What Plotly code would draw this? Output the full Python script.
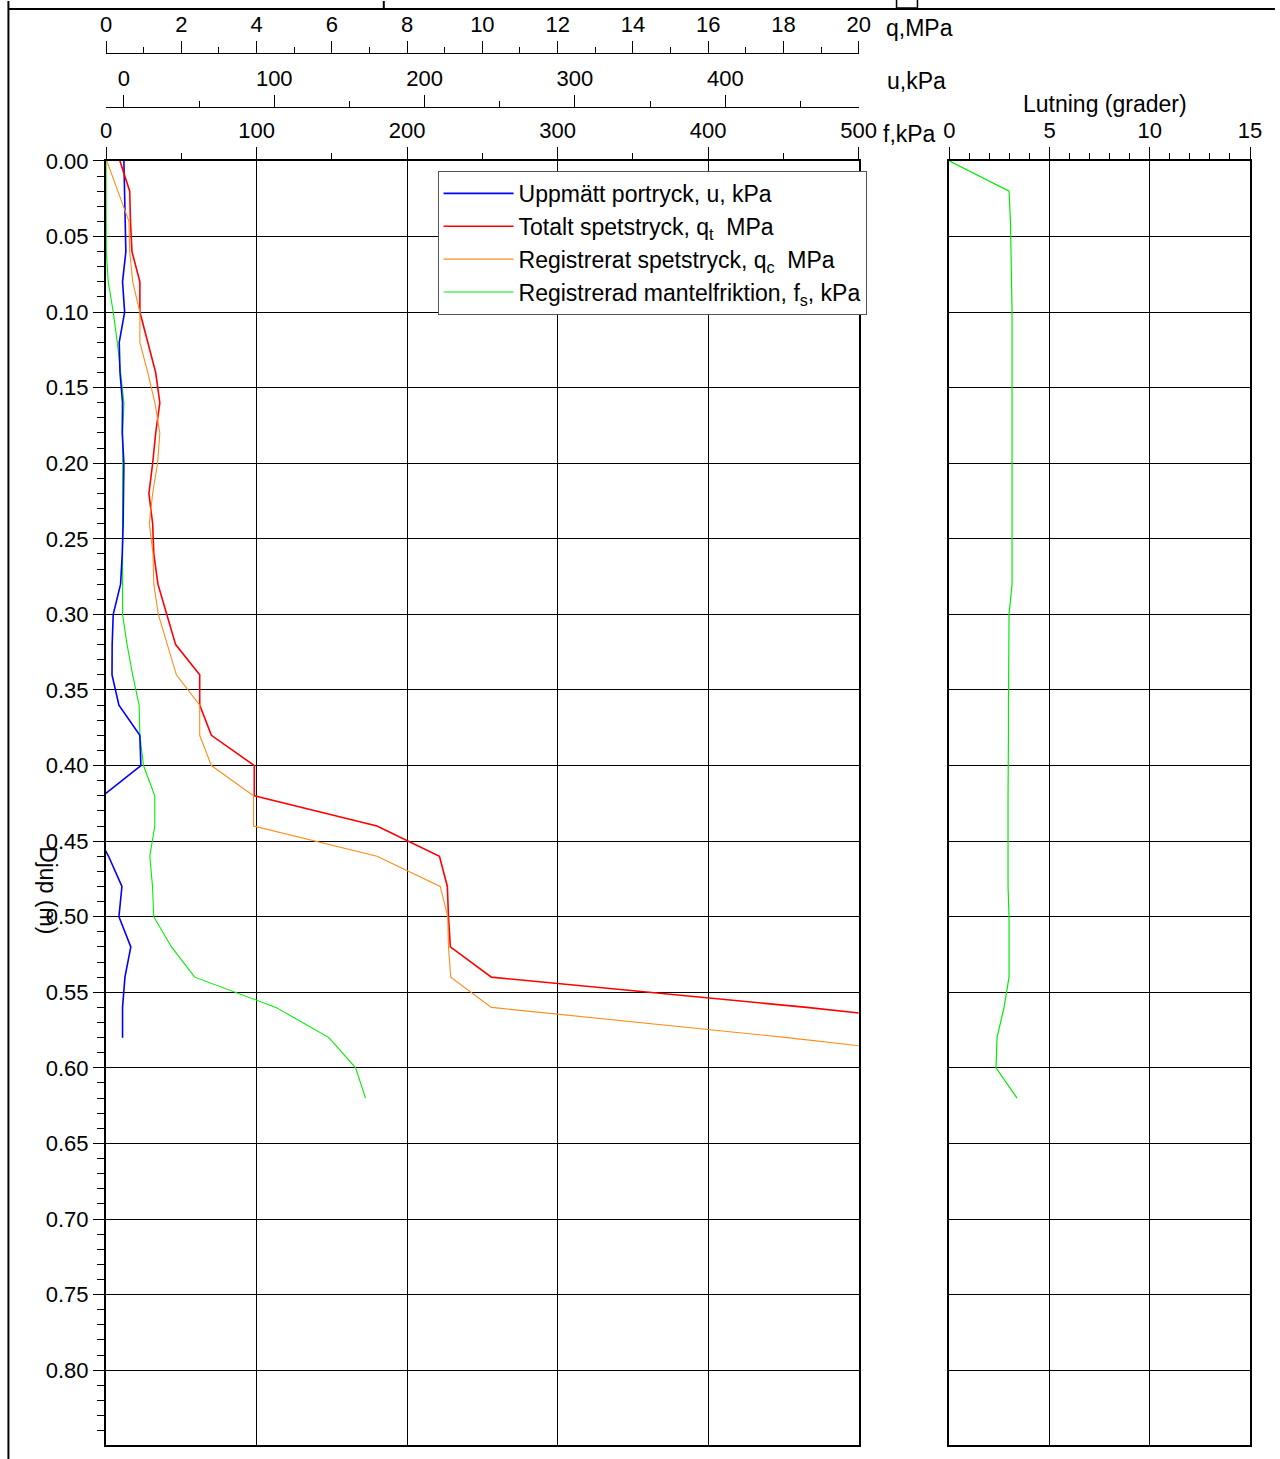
import plotly.graph_objects as go

# ---------------- data ----------------
depth_qt = [0.00, 0.02, 0.04, 0.06, 0.08, 0.10, 0.12, 0.14, 0.16, 0.18,
            0.20, 0.22, 0.24, 0.26, 0.28, 0.30, 0.32, 0.34, 0.36, 0.38,
            0.40, 0.42, 0.44, 0.46, 0.48, 0.50, 0.52, 0.54, 0.56, 0.58]
qt_mpa = [0.37, 0.63, 0.65, 0.69, 0.90, 0.90, 1.11, 1.32, 1.43, 1.32,
          1.24, 1.14, 1.24, 1.27, 1.38, 1.61, 1.85, 2.49, 2.49, 2.80,
          3.94, 3.94, 7.20, 8.86, 9.07, 9.10, 9.15, 10.24, 18.62, 26.1]

depth_qc = [0.00, 0.02, 0.04, 0.06, 0.08, 0.10, 0.12, 0.14, 0.16, 0.18,
            0.20, 0.22, 0.24, 0.26, 0.28, 0.30, 0.32, 0.34, 0.36, 0.38,
            0.40, 0.42, 0.44, 0.46, 0.48, 0.50, 0.52, 0.54, 0.56, 0.58, 0.60]
qc_mpa = [0.02, 0.32, 0.61, 0.63, 0.71, 0.90, 0.90, 1.11, 1.30, 1.43,
          1.37, 1.24, 1.15, 1.25, 1.27, 1.39, 1.63, 1.87, 2.49, 2.49,
          2.80, 3.92, 3.92, 7.20, 8.88, 9.08, 9.10, 9.16, 10.24, 18.1, 25.2]

depth_u = [0.00, 0.02, 0.04, 0.06, 0.08, 0.10, 0.12, 0.14, 0.16, 0.18,
           0.20, 0.22, 0.24, 0.26, 0.28, 0.30, 0.32, 0.34, 0.36, 0.38,
           0.40, 0.42, 0.44, 0.46, 0.48, 0.50, 0.52, 0.54, 0.56, 0.58]
u_kpa = [0.0, 0.5, 0.7, 1.3, -0.9, 0.5, -3.1, -2.6, -0.9, -1.1,
         0.0, 0.0, -0.5, -1.1, -2.2, -7.1, -7.8, -7.9, -3.3, 10.6,
         11.3, -14.0, -21.5, -10.2, -1.3, -3.3, 4.6, 0.7, -0.9, -0.9]

depth_fs = [0.00, 0.02, 0.04, 0.06, 0.08, 0.10, 0.12, 0.14, 0.16, 0.18,
            0.20, 0.22, 0.24, 0.26, 0.28, 0.30, 0.32, 0.34, 0.36, 0.38,
            0.40, 0.42, 0.44, 0.46, 0.48, 0.50, 0.52, 0.54, 0.56, 0.58,
            0.60, 0.62]
fs_kpa = [0.0, 0.0, 0.0, 0.2, 1.5, 4.8, 7.5, 9.7, 11.9, 11.1,
          11.0, 11.0, 11.0, 10.8, 10.6, 11.0, 14.0, 17.7, 22.0, 22.5,
          24.9, 32.4, 32.4, 29.1, 30.9, 31.7, 43.5, 58.9, 112.9, 148.1,
          165.8, 172.4]

depth_lut = depth_fs
lutning_deg = [0.00, 2.98, 3.05, 3.08, 3.10, 3.13, 3.13, 3.13, 3.13, 3.12,
               3.12, 3.12, 3.13, 3.13, 3.13, 2.98, 2.96, 2.95, 2.95, 2.95,
               2.93, 2.93, 2.93, 2.93, 2.93, 2.98, 2.98, 2.98, 2.73, 2.38,
               2.33, 3.38]

depth_ticks = [0.00, 0.05, 0.10, 0.15, 0.20, 0.25, 0.30, 0.35, 0.40,
               0.45, 0.50, 0.55, 0.60, 0.65, 0.70, 0.75, 0.80]

names = ["Uppmätt portryck, u, kPa",
         "Totalt spetstryck, q<sub>t</sub>  MPa",
         "Registrerat spetstryck, q<sub>c</sub>  MPa",
         "Registrerad mantelfriktion, f<sub>s</sub>, kPa"]

# ---------------- layout helpers ----------------
W, H = 1280, 1459
ML, MR, MT, MB = 106, 25, 40, 14
PW = W - ML - MR
PH = H - MT - MB


def px(x):
    return (x - ML) / PW


def py(y):
    return (H - MB - y) / PH


FONT = "Liberation Sans, Arial, sans-serif"
FS = 22
FS_LAB = 23

fig = go.Figure()
fig.add_trace(go.Scatter(x=u_kpa, y=depth_u, mode="lines", name=names[0],
                         xaxis="x2", yaxis="y",
                         line=dict(color="#0000ff", width=1.6)))
fig.add_trace(go.Scatter(x=qt_mpa, y=depth_qt, mode="lines", name=names[1],
                         xaxis="x3", yaxis="y",
                         line=dict(color="#ff0000", width=1.6)))
fig.add_trace(go.Scatter(x=qc_mpa, y=depth_qc, mode="lines", name=names[2],
                         xaxis="x3", yaxis="y",
                         line=dict(color="#ff8c1a", width=1.1)))
fig.add_trace(go.Scatter(x=fs_kpa, y=depth_fs, mode="lines", name=names[3],
                         xaxis="x", yaxis="y",
                         line=dict(color="#00ee00", width=1.1)))
fig.add_trace(go.Scatter(x=lutning_deg, y=depth_lut, mode="lines",
                         showlegend=False, xaxis="x4", yaxis="y2",
                         line=dict(color="#00ee00", width=1.2)))

tick_common = dict(ticks="outside", tickcolor="black", tickwidth=1,
                   zeroline=False, tickfont=dict(family=FONT, size=FS, color="black"))

YR = [0.8495, 0.0]

fig.update_layout(
    width=W, height=H,
    margin=dict(l=ML, r=MR, t=MT, b=MB),
    paper_bgcolor="white", plot_bgcolor="white",
    font=dict(family=FONT, size=FS, color="black"),
    xaxis=dict(domain=[0, px(862)], range=[0, 500], side="top", anchor="y",
               tickmode="linear", tick0=0, dtick=100, ticklen=12,
               minor=dict(dtick=50, ticklen=6, tickcolor="black", showgrid=False),
               showgrid=True, gridcolor="black", gridwidth=1,
               showline=True, linecolor="black", linewidth=2, mirror=True,
               **tick_common),
    xaxis2=dict(overlaying="x", anchor="free", position=py(106), side="top",
                domain=[0, px(862)], range=[-11.9, 488.7],
                tickmode="linear", tick0=0, dtick=100, ticklen=12,
                minor=dict(tick0=0, dtick=50, ticklen=6, tickcolor="black", showgrid=False),
                showgrid=False, showline=True, linecolor="black", linewidth=1,
                **tick_common),
    xaxis3=dict(overlaying="x", anchor="free", position=py(52), side="top",
                domain=[0, px(862)], range=[0, 20],
                tickmode="linear", tick0=0, dtick=2, ticklen=12,
                minor=dict(dtick=1, ticklen=6, tickcolor="black", showgrid=False),
                showgrid=False, showline=True, linecolor="black", linewidth=1,
                **tick_common),
    xaxis4=dict(domain=[px(953), px(1255)], range=[0, 15], side="top", anchor="y2",
                tickmode="linear", tick0=0, dtick=5, ticklen=12,
                minor=dict(dtick=1, ticklen=6, tickcolor="black", showgrid=False),
                showgrid=True, gridcolor="black", gridwidth=1,
                showline=True, linecolor="black", linewidth=2, mirror=True,
                **tick_common),
    yaxis=dict(domain=[0, py(160)], range=YR, anchor="x",
               tickmode="array", tickvals=depth_ticks,
               ticktext=[f"{v:.2f}" for v in depth_ticks], ticklen=11,
               minor=dict(dtick=0.01, tick0=0, ticklen=7, tickcolor="black", showgrid=False),
               showgrid=True, gridcolor="black", gridwidth=1,
               showline=True, linecolor="black", linewidth=2, mirror=True,
               **tick_common),
    yaxis2=dict(domain=[0, py(160)], range=YR, anchor="x4",
                tickmode="array", tickvals=depth_ticks, showticklabels=False,
                ticks="", showgrid=True, gridcolor="black", gridwidth=1,
                showline=True, linecolor="black", linewidth=2, mirror=True,
                zeroline=False),
    legend=dict(x=px(439), y=py(170), xanchor="left", yanchor="top",
                bgcolor="white", bordercolor="#555555", borderwidth=1,
                font=dict(family=FONT, size=FS_LAB, color="black"),
                tracegroupgap=0, itemwidth=70),
    showlegend=True,
)

ann = [
    dict(text="q,MPa", x=px(887), y=py(27), xanchor="left", yanchor="middle"),
    dict(text="u,kPa", x=px(888), y=py(80), xanchor="left", yanchor="middle"),
    dict(text="f,kPa", x=px(884), y=py(133), xanchor="left", yanchor="middle"),
    dict(text="Lutning (grader)", x=px(1109), y=py(103), xanchor="center", yanchor="middle"),
    dict(text="Djup (m)", x=px(47), y=py(890), xanchor="center", yanchor="middle",
         textangle=90),
]
for a in ann:
    fig.add_annotation(xref="paper", yref="paper", showarrow=False,
                       font=dict(family=FONT, size=FS_LAB, color="black"), **a)

# page frame fragments
frame = [
    dict(x0=px(8), x1=px(8), y0=py(0), y1=py(1459)),
    dict(x0=px(8), x1=px(1280), y0=py(8), y1=py(8)),
    dict(x0=px(385), x1=px(385), y0=py(0), y1=py(8)),
]
for f in frame:
    fig.add_shape(type="line", xref="paper", yref="paper",
                  line=dict(color="black", width=2), **f)
fig.add_shape(type="rect", xref="paper", yref="paper",
              x0=px(900), x1=px(921), y0=py(7), y1=py(-2),
              line=dict(color="black", width=1.5))

fig.write_html("out.html",
               config={"displayModeBar": False, "responsive": False},
               post_script="document.body.style.margin='0px';document.body.style.overflow='hidden';")
